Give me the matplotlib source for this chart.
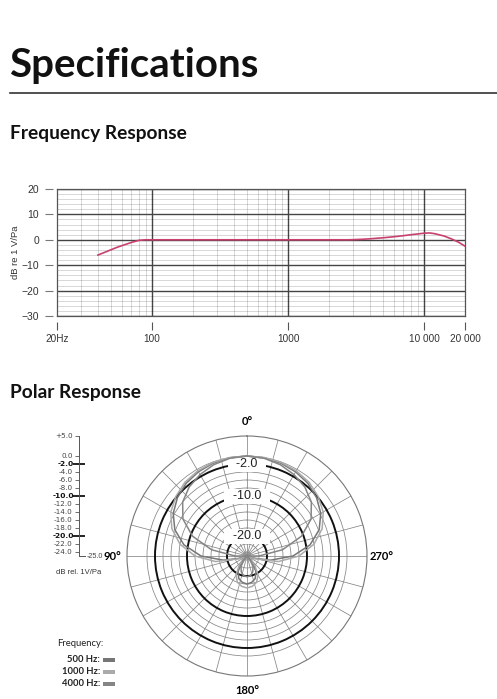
import numpy as np
import matplotlib
matplotlib.use("Agg")
import matplotlib.pyplot as plt
from matplotlib.patches import Rectangle
from matplotlib.ticker import LogLocator, NullLocator, NullFormatter

# ---------------- data ----------------
# frequency response
freq_hz = [40, 45, 50, 55, 60, 70, 80, 90, 100, 200, 500, 1000, 2000, 2800,
           3500, 4000, 5000, 6000, 7000, 8000, 9000, 10000, 11000, 12000,
           14000, 16000, 18000, 20000]
resp_db = [-6.0, -4.9, -3.9, -3.0, -2.3, -1.1, -0.2, 0.0, 0.0, 0.0, 0.0, 0.0,
           0.0, 0.0, 0.2, 0.4, 0.8, 1.2, 1.6, 2.0, 2.3, 2.6, 2.7, 2.4,
           1.5, 0.3, -1.0, -2.5]

freq_ticks = [20, 100, 1000, 10000, 20000]
freq_labels = ["20Hz", "100", "1000", "10 000", "20 000"]
db_ticks = [-30, -20, -10, 0, 10, 20]

# polar response, dB vs angle (0 = on axis, counter-clockwise)
polar_deg = [0, 10, 20, 30, 40, 50, 60, 70, 80, 90, 100, 110, 120, 130, 140,
             150, 160, 170, 180, 190, 200, 210, 220, 230, 240, 250, 260, 270,
             280, 290, 300, 310, 320, 330, 340, 350, 360]
pol_500 = [0.0, -0.1, -0.3, -0.7, -1.3, -2.3, -3.7, -5.8, -9.0, -13.5, -19.0,
           -23.5, -24.5, -24.0, -22.5, -20.5, -19.0, -18.3, -18.0, -18.3, -19.0,
           -20.5, -22.5, -24.0, -24.5, -23.5, -19.0, -13.5, -9.0, -5.8, -3.7,
           -2.3, -1.3, -0.7, -0.3, -0.1, 0.0]
pol_1000 = [0.0, 0.0, -0.1, -0.4, -0.9, -1.8, -3.0, -5.0, -8.0, -12.0, -17.0,
            -23.0, -24.5, -24.0, -22.0, -19.5, -18.0, -17.3, -17.0, -17.3, -18.0,
            -19.5, -22.0, -24.0, -24.5, -23.0, -17.0, -12.0, -8.0, -5.0, -3.0,
            -1.8, -0.9, -0.4, -0.1, 0.0, 0.0]
pol_4000 = [0.0, -0.2, -0.7, -1.5, -2.5, -4.0, -6.5, -10.5, -16.0, -22.0, -25.0,
            -25.0, -25.0, -24.5, -23.5, -22.0, -20.8, -20.0, -19.8, -20.0, -20.8,
            -22.0, -23.5, -24.5, -25.0, -25.0, -25.0, -22.0, -16.0, -10.5, -6.5,
            -4.0, -2.5, -1.5, -0.7, -0.2, 0.0]

series_names = ["500 Hz:", "1000 Hz:", "4000 Hz:"]
series_colors = ["#767676", "#aaaaaa", "#858585"]

ring_db = [0, -2, -4, -6, -8, -10, -12, -14, -16, -18, -20, -22, -24]
bold_db = [-2, -10, -20]
scale_db = [5, 0, -4, -6, -8, -12, -14, -16, -18, -22, -24]

W, H = 497, 699
TICKFONT = ["Liberation Sans", "DejaVu Sans"]
HEADFONT = ["Lato", "DejaVu Sans"]

fig = plt.figure(figsize=(W / 100, H / 100), dpi=100)

# ---------------- headings ----------------
fig.text(9 / W, 1 - 77 / H, "Specifications", fontsize=29, weight="bold",
         family=HEADFONT, va="baseline", color="#111")
fig.add_artist(plt.Line2D([10 / W, 1.0], [1 - 93 / H] * 2, color="#333", lw=1.2))
fig.text(10 / W, 1 - 138.5 / H, "Frequency Response", fontsize=13.8, weight="bold",
         family=HEADFONT, va="baseline", color="#111")
fig.text(10 / W, 1 - 397.5 / H, "Polar Response", fontsize=13.8, weight="bold",
         family=HEADFONT, va="baseline", color="#111")

# ---------------- frequency response ----------------
ax = fig.add_axes([57 / W, 1 - 316 / H, (465 - 57) / W, (316 - 189) / H])
ax.set_xscale("log")
ax.set_xlim(20, 20000)
ax.set_ylim(-30, 20)
ax.plot(freq_hz, resp_db, color="#c8406e", lw=1.2, zorder=3)

ax.set_xticks([100, 1000, 10000])
ax.xaxis.set_minor_locator(LogLocator(subs=range(2, 10)))
ax.xaxis.set_minor_formatter(NullFormatter())
ax.set_yticks(db_ticks)
ax.set_yticks(range(-30, 21, 2), minor=True)
ax.grid(which="major", color="#444", lw=1.0)
ax.grid(which="minor", color="black", alpha=0.22, lw=0.5)
ax.tick_params(which="both", length=0, labelbottom=False, labelleft=False)
for s in ax.spines.values():
    s.set_color("#555")
    s.set_linewidth(0.9)

secx = ax.secondary_xaxis(-0.047)
secx.set_xticks(freq_ticks, freq_labels)
secx.xaxis.set_minor_locator(NullLocator())
secx.spines["bottom"].set_visible(False)
secx.tick_params(length=6, width=0.8, color="#555", labelsize=7.2, pad=3,
                 labelcolor="#333")
for t in secx.get_xticklabels():
    t.set_family(TICKFONT)

secy = ax.secondary_yaxis(-0.01)
secy.set_yticks(db_ticks)
secy.spines["left"].set_visible(False)
secy.tick_params(length=6, width=0.8, color="#777", labelsize=7.5, pad=4,
                 labelcolor="#333")
for t in secy.get_yticklabels():
    t.set_family(TICKFONT)
secy.set_ylabel("dB re 1 V/Pa", fontsize=6.8, family=TICKFONT, color="#333",
                labelpad=1)

# ---------------- polar response ----------------
cx, cy, rad = 247, 556, 120
pax = fig.add_axes([(cx - rad) / W, 1 - (cy + rad) / H, 2 * rad / W, 2 * rad / H],
                   projection="polar")
pax.set_theta_zero_location("N")
pax.set_theta_direction(1)
pax.set_ylim(-25, 5)
pax.set_yticks(ring_db)
pax.set_yticklabels([])
spokes = np.arange(0, 360, 15)
pax.set_xticks(np.deg2rad(spokes))
pax.set_xticklabels([f"{a}°" if a % 90 == 0 else "" for a in spokes],
                    fontsize=8, weight="bold", family=HEADFONT)
pax.tick_params(axis="x", pad=0)
pax.grid(color="#858585", lw=0.55)
for val, gl in zip(ring_db, pax.yaxis.get_gridlines()):
    if val in bold_db:
        gl.set_color("#111")
        gl.set_linewidth(1.4)
pax.spines["polar"].set_color("#777")
pax.spines["polar"].set_linewidth(0.8)

for vals, col in zip([pol_500, pol_1000, pol_4000], series_colors):
    pax.plot(np.deg2rad(polar_deg), vals, color=col, lw=1.1, zorder=3)

for v in bold_db:
    pax.text(0, v, f"  {v:.1f}  ", ha="center", va="center", fontsize=9,
             family=TICKFONT, color="#222", zorder=2.8,
             bbox=dict(boxstyle="square,pad=0.12", fc="white", ec="none"))

# dB scale on the left
sax = fig.add_axes([79 / W, 1 - cy / H, 6 / W, rad / H])
sax.set_ylim(-25, 5)
sax.set_xticks([])
for side in ["top", "right"]:
    sax.spines[side].set_visible(False)
for side in ["left", "bottom"]:
    sax.spines[side].set_color("#555")
    sax.spines[side].set_linewidth(0.7)
sax.patch.set_alpha(0)
sax.set_yticks(scale_db, [f"{v:+.1f}" if v > 0 else f"{v:.1f}" for v in scale_db])
sax.set_yticks(bold_db, [f"{v:.1f}" for v in bold_db], minor=True)
sax.tick_params(which="major", length=3, width=0.6, color="#555", labelsize=5.2,
                pad=1.5, labelcolor="#444")
sax.tick_params(which="minor", direction="inout", length=9, width=1.4,
                color="#222", labelsize=5.4, pad=-1, labelcolor="#111")
for t in sax.get_yticklabels(minor=True):
    t.set_weight("bold")
sax.annotate("-25.0", xy=(1, -25), xycoords=("axes fraction", "data"),
             xytext=(1.5, 0), textcoords="offset points", va="center",
             fontsize=5.2, color="#444", family=TICKFONT)
fig.text(56 / W, 1 - 572 / H, "dB rel. 1V/Pa", fontsize=5.5, family=TICKFONT,
         color="#333", va="center")

# legend
fig.text(57 / W, 1 - 644 / H, "Frequency:", fontsize=6.8, family=HEADFONT,
         color="#222", va="center")
for i, (name, col) in enumerate(zip(series_names, series_colors)):
    yy = 660 + i * 11.8
    fig.text(100 / W, 1 - yy / H, name, fontsize=6.8, weight="bold",
             family=HEADFONT, color="#222", va="center", ha="right")
    fig.add_artist(Rectangle((103 / W, 1 - (yy + 2) / H), 12 / W, 4 / H,
                             transform=fig.transFigure, color=col, lw=0))

fig.savefig("out.png", dpi=100)
